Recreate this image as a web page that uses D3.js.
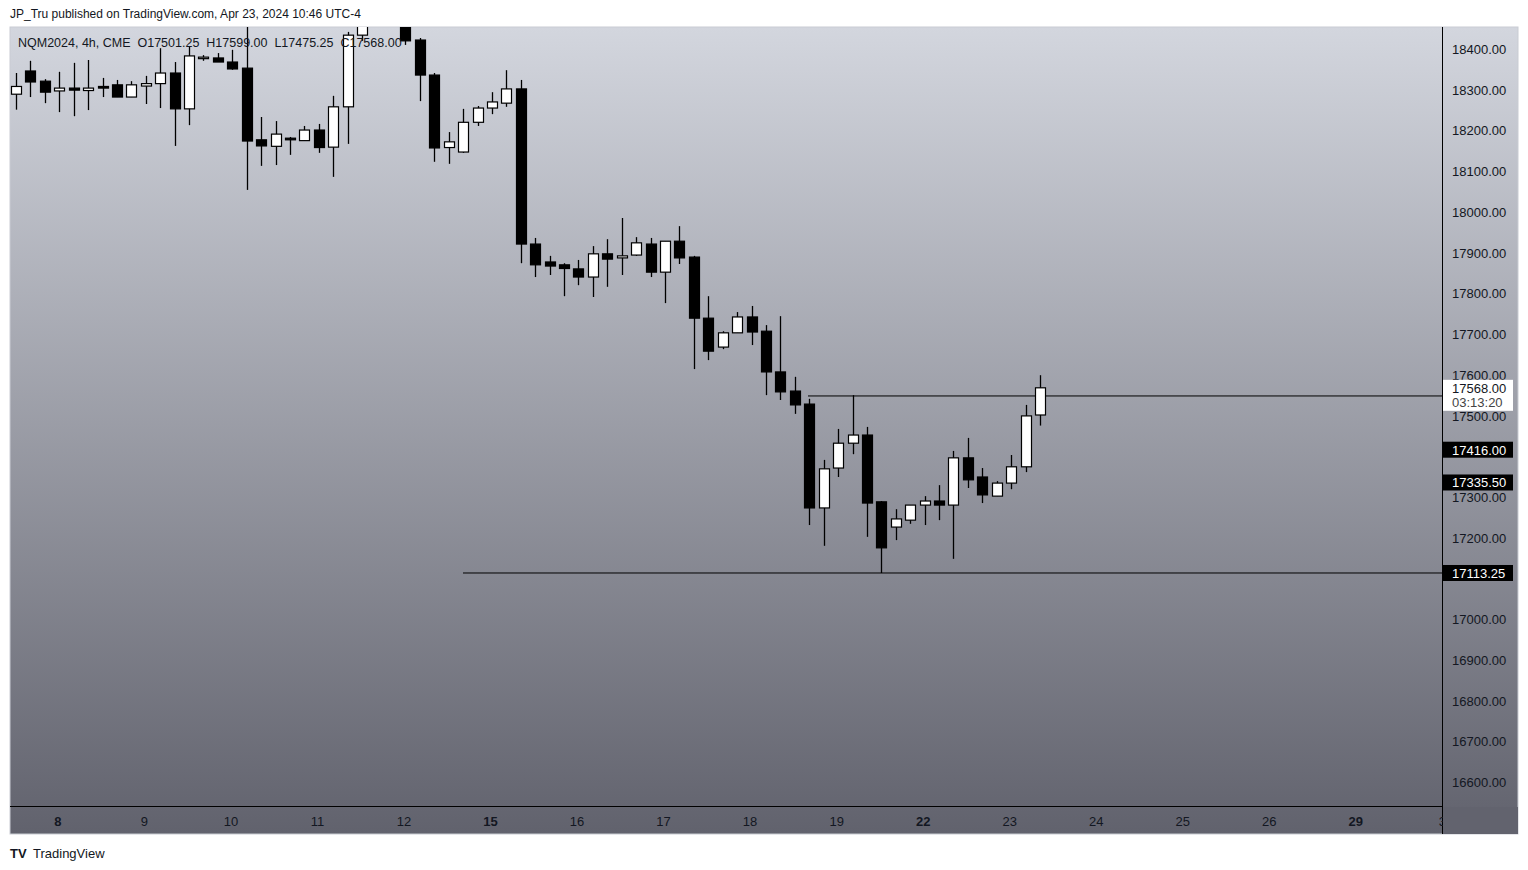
<!DOCTYPE html>
<html><head><meta charset="utf-8">
<script src="https://cdn.jsdelivr.net/npm/d3@7"></script>
<style>body{margin:0;background:#fff;font-family:"Liberation Sans",Arial,sans-serif}</style>
</head><body><svg id="c" width="1528" height="870"></svg>
<script>
const opens  = [18289,18346,18321,18297,18304,18298,18308,18312,18282,18309,18315,18341,18253,18378,18378,18368,18353,18177,18161,18181,18175,18201,18159,18258,18434,18470,18500,18470,18422,18336,18158,18147,18220,18255,18267,18302,17921,17877,17870,17860,17840,17897,17887,17894,17921,17852,17928,17889,17739,17668,17703,17742,17707,17607,17560,17528,17273,17371,17432,17452,17288,17226,17243,17280,17290,17280,17396,17349,17302,17334,17374,17501.25];
const closes = [18308,18319,18294,18304,18299,18304,18304,18282,18312,18315,18341,18253,18383,18380,18368,18351,18174,18162,18191,18177,18201,18158,18258,18434,18470,18500,18480,18420,18336,18157,18172,18220,18255,18270,18302,17921,17870,17867,17861,17840,17897,17884,17892,17924,17852,17928,17887,17739,17658,17703,17742,17705,17607,17558,17526,17273,17369,17432,17452,17285,17175,17246,17280,17290,17280,17396,17342,17305,17334,17374,17499,17568];
const highs  = [18341,18371,18326,18344,18366,18373,18329,18324,18321,18334,18402,18368,18405,18385,18390,18398,18460,18233,18223,18184,18211,18216,18285,18442,18490,18520,18510,18490,18427,18341,18196,18253,18260,18294,18348,18324,17936,17892,17874,17882,17916,17933,17985,17938,17936,17928,17965,17892,17793,17707,17754,17769,17722,17744,17595,17541,17391,17467,17550,17472,17290,17270,17280,17302,17329,17413,17445,17371,17339,17403,17526,17599];
const lows   = [18251,18282,18267,18245,18235,18250,18282,18282,18282,18265,18255,18162,18213,18371,18368,18349,18054,18113,18115,18140,18175,18145,18086,18167,18420,18455,18465,18410,18272,18123,18118,18145,18211,18240,18258,17874,17840,17845,17793,17820,17791,17816,17845,17892,17840,17776,17872,17614,17636,17663,17703,17673,17550,17538,17504,17231,17180,17349,17405,17202,17113.25,17194,17234,17231,17243,17148,17322,17285,17302,17319,17361,17475.25];
const priceTicks = d3.range(16600, 18401, 100);
const dayLabels = ["8","9","10","11","12","15","16","17","18","19","22","23","24","25","26","29","3"];
const dayBold   = [true,false,false,false,false,true,false,false,false,false,true,false,false,false,false,true,false];
const hLines = [17548, 17113.25];
const priceLabels = [{v:17416.00,t:"17416.00"},{v:17335.50,t:"17335.50"},{v:17113.25,t:"17113.25"}];

const svg = d3.select("#c");
const L=10,R=1442,T=27,B=806,PR=1518,PB=834;
const x = d3.scaleLinear().domain([0,71]).range([16,1040]);
const y = d3.scaleLinear().domain([16600,18400]).range([782,49]);

const defs=svg.append("defs");
const g=defs.append("linearGradient").attr("id","bg").attr("x1",0).attr("y1",0).attr("x2",0).attr("y2",1);
g.append("stop").attr("offset",0).attr("stop-color","#d3d6de");
g.append("stop").attr("offset",1).attr("stop-color","#61626d");
defs.append("clipPath").attr("id","clip").append("rect").attr("x",L).attr("y",T).attr("width",R-L).attr("height",B-T);

svg.append("rect").attr("x",L).attr("y",T).attr("width",PR-L).attr("height",PB-T).attr("fill","url(#bg)").attr("stroke","#c9ccd3");

const p = svg.append("g").attr("clip-path","url(#clip)");
p.append("line").attr("x1",808).attr("x2",R).attr("y1",y(hLines[0])).attr("y2",y(hLines[0])).attr("stroke","#000");
p.append("line").attr("x1",463).attr("x2",R).attr("y1",y(hLines[1])).attr("y2",y(hLines[1])).attr("stroke","#000");

const idx=d3.range(opens.length);
p.selectAll(".w").data(idx).join("line").attr("x1",i=>Math.round(x(i))+0.5).attr("x2",i=>Math.round(x(i))+0.5)
 .attr("y1",i=>y(highs[i])).attr("y2",i=>y(lows[i])).attr("stroke","#000").attr("stroke-width",1.3);
p.selectAll(".b").data(idx).join("rect")
 .attr("x",i=>Math.round(x(i))-4.5).attr("width",10)
 .attr("y",i=>y(Math.max(opens[i],closes[i])))
 .attr("height",i=>Math.max(1.5,Math.abs(y(opens[i])-y(closes[i]))))
 .attr("fill",i=>closes[i]>=opens[i]?"#fff":"#000").attr("stroke","#000").attr("stroke-width",1.2);

svg.append("line").attr("x1",R+0.5).attr("x2",R+0.5).attr("y1",T).attr("y2",PB).attr("stroke","#000");
svg.append("line").attr("x1",L).attr("x2",R).attr("y1",B+0.5).attr("y2",B+0.5).attr("stroke","#000");

const lp=closes[closes.length-1];
const taken=[...priceLabels.map(d=>d.v)];
svg.selectAll(".pt").data(priceTicks.filter(t=>taken.every(v=>Math.abs(y(v)-y(t))>12)))
 .join("text").attr("x",1452).attr("y",d=>y(d)+5)
 .attr("font-size",13).attr("fill","#131722").text(d=>d.toFixed(2));

const pl=svg.selectAll(".pl").data(priceLabels).join("g");
pl.append("rect").attr("x",R+1).attr("y",d=>y(d.v)-8).attr("width",70).attr("height",16).attr("fill","#000");
pl.append("text").attr("x",1452).attr("y",d=>y(d.v)+5).attr("font-size",13).attr("fill","#fff").text(d=>d.t);
svg.append("rect").attr("x",R+1).attr("y",y(lp)-8).attr("width",70).attr("height",31).attr("fill","#fff");
svg.append("text").attr("x",1452).attr("y",y(lp)+5).attr("font-size",13).attr("fill","#131722").text(lp.toFixed(2));
svg.append("text").attr("x",1452).attr("y",y(lp)+19).attr("font-size",13).attr("fill","#444").text("03:13:20");

svg.selectAll(".dl").data(dayLabels).join("text").attr("x",(d,i)=>x(2.9+6*i)).attr("y",826)
 .attr("text-anchor","middle").attr("font-size",13).attr("font-weight",(d,i)=>dayBold[i]?"bold":"normal")
 .attr("fill","#131722").text(d=>d);
svg.append("rect").attr("x",R+1).attr("y",B+1).attr("width",PR-R-1).attr("height",PB-B-1).attr("fill","#62636e");

svg.append("text").attr("x",10).attr("y",18).attr("font-size",12).attr("fill","#131722").text("JP_Tru published on TradingView.com, Apr 23, 2024 10:46 UTC-4");
svg.append("text").attr("x",18).attr("y",47).attr("font-size",12.5).attr("fill","#131722").attr("xml:space","preserve")
 .text(`NQM2024, 4h, CME  O${opens[71].toFixed(2)}  H${highs[71].toFixed(2)}  L${lows[71].toFixed(2)}  C${closes[71].toFixed(2)}`);
svg.append("text").attr("x",10).attr("y",858).attr("font-size",13).attr("font-weight","bold").attr("fill","#131722").text("TV");
svg.append("text").attr("x",33).attr("y",858).attr("font-size",13).attr("fill","#131722").text("TradingView");
</script></body></html>
